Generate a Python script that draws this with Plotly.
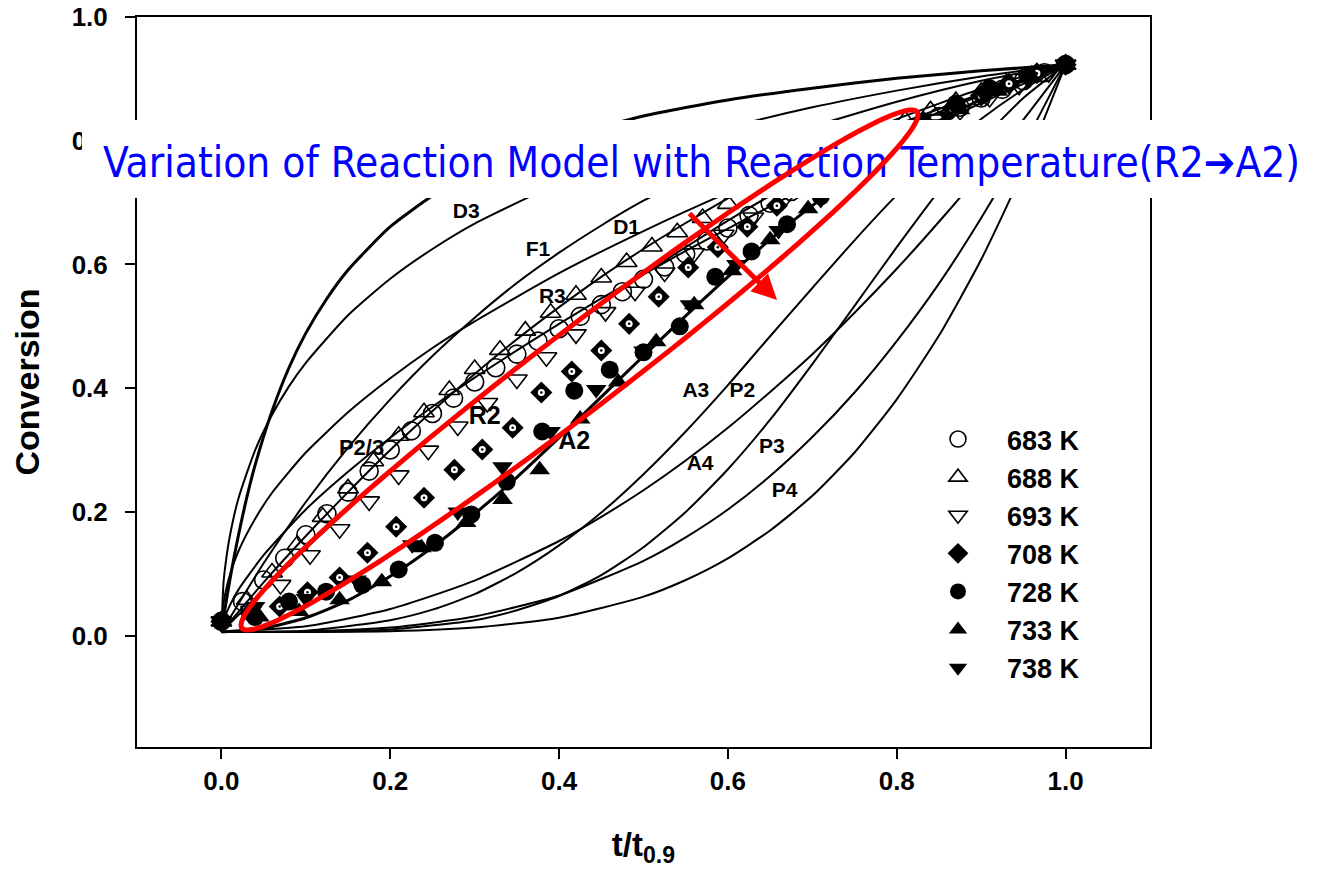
import numpy as np
import plotly.graph_objects as go

# ---------------- model (master-plot) curves ----------------
f2_x = [0, 0.0025, 0.005, 0.01, 0.015, 0.02, 0.03, 0.04, 0.06, 0.08, 0.1, 0.125, 0.15, 0.2, 0.25, 0.3, 0.35, 0.4, 0.5, 0.6, 0.7, 0.8, 0.9, 1.0]
f2_y = [0.006, 0.028, 0.050, 0.090, 0.127, 0.161, 0.223, 0.276, 0.363, 0.433, 0.489, 0.545, 0.591, 0.661, 0.711, 0.750, 0.779, 0.803, 0.840, 0.866, 0.885, 0.901, 0.913, 0.923]

d3_x = [0, 0.0025, 0.005, 0.01, 0.02, 0.04, 0.06, 0.08, 0.1, 0.15, 0.2, 0.25, 0.3, 0.4, 0.5, 0.6, 0.7, 0.8, 0.9, 1.0]
d3_y = [0.006, 0.086, 0.117, 0.161, 0.221, 0.300, 0.357, 0.403, 0.441, 0.518, 0.577, 0.625, 0.666, 0.731, 0.781, 0.821, 0.854, 0.881, 0.904, 0.923]

f1_x = [0, 0.05, 0.1, 0.15, 0.2, 0.25, 0.3, 0.35, 0.4, 0.45, 0.5, 0.6, 0.7, 0.8, 0.9, 1.0]
f1_y = [0.006, 0.117, 0.216, 0.304, 0.382, 0.452, 0.514, 0.570, 0.619, 0.663, 0.703, 0.769, 0.822, 0.863, 0.897, 0.923]

d1_x = [0, 0.0025, 0.005, 0.01, 0.02, 0.04, 0.06, 0.1, 0.15, 0.2, 0.25, 0.3, 0.4, 0.5, 0.6, 0.7, 0.8, 0.9, 1.0]
d1_y = [0.006, 0.052, 0.071, 0.098, 0.136, 0.189, 0.231, 0.296, 0.361, 0.416, 0.465, 0.508, 0.586, 0.654, 0.716, 0.773, 0.826, 0.876, 0.923]

r_x = [0, 0.05, 0.1, 0.15, 0.2, 0.25, 0.3, 0.35, 0.4, 0.45, 0.5, 0.55, 0.6, 0.65, 0.7, 0.75, 0.8, 0.85, 0.9, 0.95, 1.0]
r3_y = [0.006, 0.086, 0.161, 0.232, 0.300, 0.363, 0.423, 0.479, 0.531, 0.580, 0.625, 0.667, 0.707, 0.743, 0.776, 0.807, 0.835, 0.860, 0.884, 0.904, 0.923]
r2_y = [0.006, 0.074, 0.141, 0.204, 0.266, 0.325, 0.381, 0.435, 0.487, 0.537, 0.584, 0.628, 0.671, 0.711, 0.748, 0.783, 0.816, 0.846, 0.874, 0.900, 0.923]

p23_x = [0, 0.005, 0.01, 0.02, 0.05, 0.1, 0.15, 0.2, 0.25, 0.3, 0.35, 0.4, 0.45, 0.5, 0.55, 0.6, 0.65, 0.7, 0.75, 0.8, 0.85, 0.9, 0.95, 1.0]
p23_y = [0.006, 0.033, 0.049, 0.074, 0.130, 0.204, 0.265, 0.320, 0.370, 0.417, 0.461, 0.504, 0.545, 0.584, 0.622, 0.658, 0.694, 0.729, 0.763, 0.796, 0.829, 0.861, 0.892, 0.923]

a2_x = [0, 0.05, 0.1, 0.15, 0.2, 0.25, 0.3, 0.35, 0.4, 0.45, 0.5, 0.55, 0.6, 0.65, 0.7, 0.75, 0.8, 0.85, 0.9, 0.95, 1.0]
a2_y = [0.006, 0.012, 0.029, 0.057, 0.096, 0.143, 0.197, 0.256, 0.320, 0.386, 0.452, 0.517, 0.580, 0.640, 0.695, 0.746, 0.792, 0.832, 0.867, 0.897, 0.923]

a3_x = [0, 0.1, 0.2, 0.25, 0.3, 0.35, 0.4, 0.45, 0.5, 0.55, 0.6, 0.65, 0.7, 0.75, 0.8, 0.85, 0.9, 0.95, 1.0]
a3_y = [0.006, 0.008, 0.025, 0.042, 0.067, 0.102, 0.146, 0.199, 0.261, 0.330, 0.405, 0.484, 0.562, 0.639, 0.712, 0.777, 0.835, 0.883, 0.923]

a4_x = [0, 0.1, 0.2, 0.3, 0.35, 0.4, 0.45, 0.5, 0.55, 0.6, 0.65, 0.7, 0.75, 0.8, 0.85, 0.9, 0.95, 1.0]
a4_y = [0.006, 0.006, 0.010, 0.025, 0.041, 0.064, 0.098, 0.143, 0.200, 0.269, 0.349, 0.439, 0.533, 0.628, 0.719, 0.800, 0.869, 0.923]

p2_x = [0, 0.1, 0.2, 0.3, 0.4, 0.45, 0.5, 0.55, 0.6, 0.65, 0.7, 0.75, 0.8, 0.85, 0.9, 0.95, 1.0]
p2_y = [0.006, 0.015, 0.043, 0.089, 0.153, 0.192, 0.235, 0.283, 0.336, 0.394, 0.455, 0.522, 0.593, 0.669, 0.749, 0.834, 0.923]

p3_x = [0, 0.1, 0.2, 0.3, 0.4, 0.5, 0.55, 0.6, 0.65, 0.7, 0.75, 0.8, 0.85, 0.9, 0.95, 1.0]
p3_y = [0.006, 0.007, 0.013, 0.031, 0.065, 0.121, 0.159, 0.204, 0.258, 0.321, 0.393, 0.476, 0.569, 0.675, 0.792, 0.923]

p4_x = [0, 0.1, 0.2, 0.3, 0.4, 0.5, 0.55, 0.6, 0.65, 0.7, 0.75, 0.8, 0.85, 0.9, 0.95, 1.0]
p4_y = [0.006, 0.006, 0.007, 0.013, 0.029, 0.063, 0.090, 0.125, 0.170, 0.226, 0.296, 0.382, 0.485, 0.608, 0.753, 0.923]

# curve labels
label_text = ["F2", "D3", "F1", "D1", "R3", "R2", "P2/3", "A2", "A3", "P2", "A4", "P3", "P4"]
label_x = [0.226, 0.290, 0.375, 0.480, 0.392, 0.312, 0.166, 0.418, 0.562, 0.617, 0.567, 0.652, 0.667]
label_y = [0.722, 0.683, 0.622, 0.658, 0.546, 0.352, 0.301, 0.312, 0.395, 0.395, 0.276, 0.304, 0.233]
label_size = [21, 21, 21, 21, 21, 25, 22, 25, 21, 21, 21, 21, 21]

# ---------------- experimental series ----------------
temps = ["683 K", "688 K", "693 K", "708 K", "728 K", "733 K", "738 K"]

s683_x = [0, 0.025, 0.05, 0.075, 0.1, 0.125, 0.15, 0.175, 0.2, 0.225, 0.25, 0.275, 0.3, 0.325, 0.35, 0.375, 0.4, 0.425, 0.45, 0.475, 0.5,
          0.525, 0.55, 0.575, 0.6, 0.625, 0.65, 0.675, 0.7, 0.725, 0.75, 0.775, 0.8, 0.825, 0.85, 0.875, 0.9, 0.925, 0.95, 0.975, 1.0]
s683_y = [0.023, 0.055, 0.090, 0.125, 0.163, 0.197, 0.232, 0.266, 0.300, 0.331, 0.359, 0.384, 0.410, 0.433, 0.455, 0.476, 0.496, 0.516, 0.535, 0.556, 0.576,
          0.596, 0.617, 0.638, 0.659, 0.679, 0.699, 0.718, 0.737, 0.755, 0.773, 0.790, 0.807, 0.823, 0.839, 0.854, 0.869, 0.883, 0.897, 0.910, 0.923]

s688_x = [0, 0.03, 0.06, 0.09, 0.12, 0.15, 0.18, 0.21, 0.24, 0.27, 0.30, 0.33, 0.36, 0.39, 0.42, 0.45, 0.48,
          0.51, 0.54, 0.57, 0.60, 0.63, 0.66, 0.69, 0.72, 0.75, 0.78, 0.81, 0.84, 0.87, 0.90, 0.93, 0.96, 1.0]
s688_y = [0.023, 0.058, 0.102, 0.147, 0.192, 0.238, 0.282, 0.323, 0.361, 0.397, 0.431, 0.462, 0.493, 0.522, 0.551, 0.579, 0.604,
          0.629, 0.652, 0.675, 0.698, 0.719, 0.740, 0.760, 0.779, 0.798, 0.816, 0.833, 0.849, 0.864, 0.879, 0.893, 0.906, 0.923]

s693_x = [0, 0.035, 0.07, 0.105, 0.14, 0.175, 0.21, 0.245, 0.28, 0.315, 0.35, 0.385, 0.42, 0.455, 0.49,
          0.525, 0.56, 0.595, 0.63, 0.665, 0.70, 0.735, 0.77, 0.805, 0.84, 0.875, 0.91, 0.945, 0.98, 1.0]
s693_y = [0.023, 0.040, 0.082, 0.130, 0.172, 0.217, 0.259, 0.299, 0.338, 0.376, 0.414, 0.450, 0.487, 0.523, 0.556,
          0.587, 0.618, 0.648, 0.676, 0.703, 0.730, 0.756, 0.780, 0.804, 0.826, 0.848, 0.869, 0.889, 0.909, 0.923]

s708_x = [0, 0.035, 0.069, 0.102, 0.14, 0.173, 0.207, 0.24, 0.276, 0.309, 0.345, 0.379, 0.415, 0.45, 0.483,
          0.518, 0.553, 0.588, 0.623, 0.658, 0.693, 0.728, 0.763, 0.797, 0.832, 0.866, 0.9, 0.933, 0.966, 1.0]
s708_y = [0.023, 0.035, 0.047, 0.070, 0.094, 0.134, 0.176, 0.223, 0.268, 0.301, 0.336, 0.393, 0.427, 0.461, 0.504,
          0.548, 0.595, 0.628, 0.661, 0.695, 0.725, 0.755, 0.782, 0.806, 0.830, 0.852, 0.873, 0.892, 0.909, 0.923]

s728_x = [0, 0.04, 0.08, 0.124, 0.167, 0.21, 0.253, 0.296, 0.338, 0.38, 0.418, 0.46, 0.50,
          0.543, 0.585, 0.628, 0.67, 0.71, 0.75, 0.79, 0.83, 0.87, 0.91, 0.955, 1.0]
s728_y = [0.023, 0.030, 0.055, 0.071, 0.082, 0.107, 0.150, 0.196, 0.249, 0.330, 0.396, 0.430, 0.458,
          0.500, 0.580, 0.621, 0.665, 0.710, 0.755, 0.795, 0.830, 0.860, 0.885, 0.906, 0.923]

s733_x = [0, 0.045, 0.092, 0.14, 0.19, 0.237, 0.29, 0.333, 0.377, 0.425, 0.47, 0.515,
          0.56, 0.605, 0.65, 0.695, 0.74, 0.785, 0.83, 0.875, 0.92, 0.96, 1.0]
s733_y = [0.023, 0.030, 0.039, 0.058, 0.087, 0.142, 0.183, 0.220, 0.268, 0.350, 0.410, 0.475,
          0.535, 0.590, 0.640, 0.690, 0.737, 0.780, 0.818, 0.850, 0.880, 0.902, 0.923]

s738_x = [0, 0.04, 0.1, 0.16, 0.226, 0.28, 0.333, 0.39, 0.444, 0.5,
          0.555, 0.61, 0.66, 0.71, 0.76, 0.81, 0.86, 0.905, 0.955, 1.0]
s738_y = [0.023, 0.047, 0.060, 0.090, 0.147, 0.200, 0.273, 0.330, 0.398, 0.460,
          0.535, 0.600, 0.655, 0.705, 0.755, 0.800, 0.840, 0.872, 0.900, 0.923]

x_ticks = [0.0, 0.2, 0.4, 0.6, 0.8, 1.0]
y_ticks = [0.0, 0.2, 0.4, 0.6, 0.8, 1.0]

# ---------------- figure ----------------
# the page body has an 8 px margin, so the figure is drawn 8 px smaller and
# every reference-pixel position below is given in page coordinates
OFF = 8
W, H = 1318 - OFF, 877 - OFF
ML, MT = 137 - OFF, 17 - OFF
PW, PH = 1013, 730
MR, MB = W - ML - PW, H - MT - PH
FONT = "Liberation Sans, Arial, Helvetica, sans-serif"


def px2paper(px, py):
    # page pixel -> paper fraction
    return (px - OFF - ML) / PW, (MT + PH - (py - OFF)) / PH


fig = go.Figure()

models = [
    (f2_x, f2_y, 3.0), (d3_x, d3_y, 2.0), (f1_x, f1_y, 2.0), (d1_x, d1_y, 2.0),
    (r_x, r3_y, 2.0), (r_x, r2_y, 2.0), (p23_x, p23_y, 2.0), (a2_x, a2_y, 3.0),
    (a3_x, a3_y, 2.0), (a4_x, a4_y, 2.0), (p2_x, p2_y, 2.0), (p3_x, p3_y, 2.0),
    (p4_x, p4_y, 2.0),
]
for xs, ys, w in models:
    fig.add_trace(go.Scatter(x=xs, y=ys, mode="lines",
                             line=dict(color="black", width=w, shape="spline", smoothing=0.6),
                             showlegend=False, hoverinfo="skip"))

fig.add_trace(go.Scatter(x=label_x, y=label_y, mode="text", text=label_text,
                         textfont=dict(family=FONT, size=label_size, color="black", weight="bold"),
                         showlegend=False, hoverinfo="skip"))

series = [
    (s683_x, s683_y, "circle-open", 18),
    (s688_x, s688_y, "triangle-up-open", 18),
    (s693_x, s693_y, "triangle-down-open", 18),
    (s708_x, s708_y, "diamond", 17),
    (s728_x, s728_y, "circle", 18),
    (s733_x, s733_y, "triangle-up", 18),
    (s738_x, s738_y, "triangle-down", 18),
]
for i, (xs, ys, sym, sz) in enumerate(series):
    open_sym = sym.endswith("open")
    fig.add_trace(go.Scatter(
        x=xs, y=ys, mode="markers", name=temps[i],
        marker=dict(symbol=sym, size=sz, color="black",
                    line=dict(color="black", width=1.6 if open_sym else 0)),
        hoverinfo="skip"))
    if sym == "diamond":
        fig.add_trace(go.Scatter(x=xs, y=ys, mode="markers", showlegend=False, hoverinfo="skip",
                                 marker=dict(symbol="circle", size=7, color="white", line=dict(width=0))))
        fig.add_trace(go.Scatter(x=xs, y=ys, mode="markers", showlegend=False, hoverinfo="skip",
                                 marker=dict(symbol="circle", size=2.5, color="black", line=dict(width=0))))

axis_common = dict(showgrid=False, zeroline=False, showline=True, linewidth=2, linecolor="black",
                   mirror=True, ticks="outside", ticklen=10, tickwidth=2, tickcolor="black",
                   tickformat=".1f", automargin=False, ticklabeloverflow="allow",
                   tickfont=dict(family=FONT, size=26, color="black", weight="bold"))

fig.update_layout(
    width=W, height=H,
    margin=dict(l=ML, r=MR, t=MT, b=MB, pad=0),
    paper_bgcolor="white", plot_bgcolor="white",
    xaxis=dict(range=[-0.1, 1.1], tickvals=x_ticks,
               title=dict(text="t/t<sub>0.9</sub>", standoff=38,
                          font=dict(family=FONT, size=33, color="black", weight="bold")),
               **axis_common),
    yaxis=dict(range=[-0.18, 1.0], tickvals=y_ticks, ticklabelstandoff=12,
               title=dict(text="Conversion", standoff=31,
                          font=dict(family=FONT, size=34, color="black", weight="bold")),
               **axis_common),
    legend=dict(x=(909 - OFF - ML) / PW, y=(MT + PH - (415 - OFF)) / PH, xanchor="left", yanchor="top",
                bgcolor="rgba(0,0,0,0)", borderwidth=0, itemwidth=88,
                font=dict(family=FONT, size=27, color="black", weight="bold")),
)

# white title box with blue title text
bx0, by1 = px2paper(82, 120)
bx1, by0 = px2paper(1316, 198)
fig.add_shape(type="rect", xref="paper", yref="paper", x0=bx0, x1=bx1, y0=by0, y1=by1,
              fillcolor="white", line=dict(width=0), layer="above",
              label=dict(text="Variation of Reaction Model with Reaction Temperature(R2\u2794A2)",
                         font=dict(family="Liberation Sans Narrow, Arial Narrow, DejaVu Sans Condensed, sans-serif",
                                   size=42, color="#0000FF"),
                         textposition="middle left", padding=18))

# red ellipse (decoration), built in page-pixel space then mapped to paper
cx, cy, ra, rb, ang = 579.5, 370.0, 425.0, 40.0, np.deg2rad(37.4)
t = np.linspace(0, 2 * np.pi, 120)
ex = cx + ra * np.cos(t) * np.cos(ang) - rb * np.sin(t) * np.sin(ang)
ey = cy - (ra * np.cos(t) * np.sin(ang) + rb * np.sin(t) * np.cos(ang))
pts = [px2paper(a, b) for a, b in zip(ex, ey)]
path = "M " + " L ".join(f"{a:.5f},{b:.5f}" for a, b in pts) + " Z"
fig.add_shape(type="path", xref="paper", yref="paper", path=path,
              line=dict(color="#FF0000", width=5), fillcolor="rgba(0,0,0,0)", layer="above")

# red arrow
tipx, tipy = px2paper(777, 300)
fig.add_annotation(x=tipx, y=tipy, xref="paper", yref="paper", text="", showarrow=True,
                   ax=688 - 777, ay=212 - 300, arrowhead=2, arrowsize=1, arrowwidth=5,
                   arrowcolor="#FF0000", standoff=0)

fig.write_html("out.html")
